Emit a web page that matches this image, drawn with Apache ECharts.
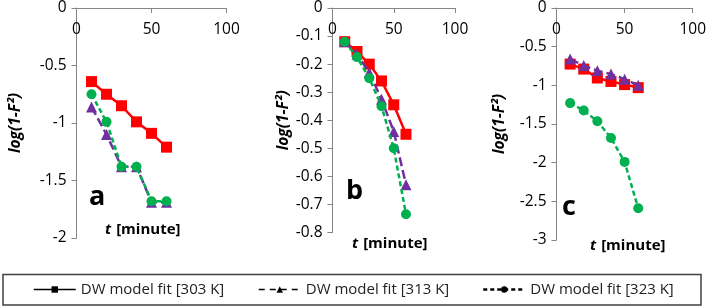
<!DOCTYPE html>
<html><head><meta charset="utf-8">
<script src="https://cdn.jsdelivr.net/npm/echarts@6/dist/echarts.min.js"></script>
<style>html,body{margin:0;padding:0;background:#fff}#c{width:709px;height:308px}</style>
</head><body><div id="c"></div>
<script>
const times = [10, 20, 30, 40, 50, 60];
const seriesNames = ['DW model fit [303 K]', 'DW model fit [313 K]', 'DW model fit [323 K]'];
const xTicks = [0, 50, 100];
// panel a
const a303 = [-0.64, -0.75, -0.85, -0.99, -1.09, -1.21];
const a313 = [-0.86, -1.10, -1.38, -1.38, -1.69, -1.69];
const a323 = [-0.75, -0.99, -1.38, -1.38, -1.68, -1.68];
// panel b
const b303 = [-0.12, -0.155, -0.20, -0.26, -0.345, -0.45];
const b313 = [-0.12, -0.165, -0.23, -0.325, -0.44, -0.63];
const b323 = [-0.12, -0.175, -0.25, -0.35, -0.50, -0.735];
// panel c
const c303 = [-0.725, -0.79, -0.905, -0.95, -0.99, -1.03];
const c313 = [-0.66, -0.745, -0.81, -0.855, -0.92, -1.00];
const c323 = [-1.23, -1.325, -1.465, -1.68, -1.99, -2.59];
const yRanges = [[-2, 0, 0.5], [-0.8, 0, 0.1], [-3, 0, 0.5]];
const panelLetters = ['a', 'b', 'c'];

const panels = [[a303, a313, a323], [b303, b313, b323], [c303, c313, c323]];
const colors = ['#ff0000', '#7030a0', '#00b050'];
const symbols = ['rect', 'triangle', 'circle'];
const symSizes = [11, 11, 10];
const lineTypes = ['solid', [9, 4], [5, 3]];
const legendLineTypes = ['solid', [6, 5], [4, 3]];

const grids = [
  {left: 76.5, top: 6.5, width: 150, height: 231.5},
  {left: 332.5, top: 6.5, width: 122.5, height: 226},
  {left: 556.5, top: 6.5, width: 138, height: 233.5}
];
const nameGaps = [53, 41, 49];
const axisColor = '#868686';
const txt = '#000';
const fam = '"Open Sans", sans-serif';

const xAxis = grids.map((g, i) => ({
  gridIndex: i, type: 'value', position: 'top', min: 0, max: 100, interval: 50,
  axisLine: {lineStyle: {color: axisColor, width: 1}},
  axisTick: {inside: true, length: 5, lineStyle: {color: axisColor}},
  axisLabel: {inside: true, margin: 14, color: txt, fontSize: 15.5, fontFamily: fam},
  splitLine: {show: false}
}));
const yAxis = grids.map((g, i) => ({
  gridIndex: i, type: 'value', min: yRanges[i][0], max: yRanges[i][1], interval: yRanges[i][2],
  name: 'log(1-F²)', nameLocation: 'middle', nameGap: nameGaps[i], nameRotate: 90,
  nameTextStyle: {fontStyle: 'italic', fontWeight: 'bold', fontSize: 15.5, color: txt, fontFamily: fam},
  axisLine: {show: true, lineStyle: {color: axisColor, width: 1}},
  axisTick: {show: true, length: 5, lineStyle: {color: axisColor}},
  axisLabel: {margin: 10, color: txt, fontSize: 15.5, fontFamily: fam},
  splitLine: {show: false}
}));

const series = [];
panels.forEach((p, gi) => {
  p.forEach((vals, si) => {
    series.push({
      name: seriesNames[si], type: 'line', xAxisIndex: gi, yAxisIndex: gi,
      data: times.map((t, k) => [t, vals[k]]),
      symbol: symbols[si], symbolSize: symSizes[si], showSymbol: true,
      itemStyle: {color: colors[si]},
      lineStyle: {color: colors[si], width: 2.5, type: lineTypes[si]},
      z: 2 + si, animation: false
    });
  });
});

const legendLefts = [33, 258, 482];
const legend = seriesNames.map((n, i) => ({
  left: legendLefts[i], top: 282, padding: 0, itemWidth: 42, itemHeight: 8, itemGap: 0,
  textStyle: {color: '#222', fontSize: 15, fontFamily: fam},
  data: [{name: n, itemStyle: {color: '#000', borderWidth: 0}, lineStyle: {color: '#000', width: i === 2 ? 2.5 : 1.5, type: legendLineTypes[i]}}],
  selectedMode: false
}));

const titlePos = [[105, 221], [352, 235], [590, 237]];
const letterPos = [[89, 184], [346, 178], [562, 194]];
const title = [];
titlePos.forEach((p) => title.push({
  left: p[0], top: p[1], padding: 0,
  text: '{i|t} {b|[minute]}',
  textStyle: {rich: {
    i: {fontStyle: 'italic', fontWeight: 'bold', fontSize: 15, fontFamily: fam, color: txt},
    b: {fontWeight: 'bold', fontSize: 15, fontFamily: fam, color: txt}
  }}
}));
letterPos.forEach((p, i) => title.push({
  left: p[0], top: p[1], padding: 0, text: panelLetters[i],
  textStyle: {fontWeight: 'bold', fontSize: 27, fontFamily: fam, color: txt}
}));

const chart = echarts.init(document.getElementById('c'), null, {renderer: 'canvas'});
chart.setOption({
  animation: false,
  grid: grids,
  xAxis, yAxis, series, legend, title,
  graphic: [{type: 'rect', shape: {x: 3, y: 274.5, width: 698, height: 30.5},
    style: {fill: 'none', stroke: '#404040', lineWidth: 1.5}, z: 0}]
});
</script></body></html>
